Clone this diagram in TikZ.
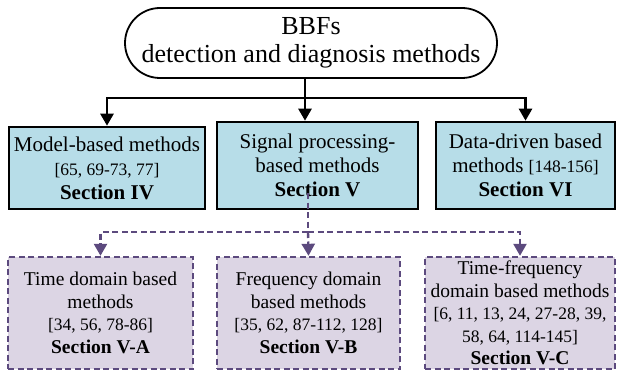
\documentclass[tikz,border=0pt]{standalone}
\usepackage{fontspec}
\setmainfont{Liberation Serif}
\usetikzlibrary{arrows.meta}
\usetikzlibrary{positioning}
\definecolor{boxblue}{HTML}{B7DDE8}
\definecolor{boxlilac}{HTML}{DCD5E4}
\definecolor{dashpurple}{HTML}{5C4A7E}
\def\refs#1{{\fontsize{17.5}{24}\selectfont #1}}

\begin{document}
\begin{tikzpicture}[x=1pt,y=-1pt,>={Triangle[width=13pt,length=12pt]},
		main/.style={draw,line width=1.8pt,rounded corners=35pt,minimum width=372pt,
			minimum height=70pt,align=center,font=\fontsize{26}{28.5}\selectfont},
		method/.style={draw,line width=2.6pt,fill=boxblue,align=center,inner sep=0pt,
			font=\fontsize{21}{24}\selectfont},
		submethod/.style={draw=dashpurple,dash pattern=on 6pt off 3.5pt,line width=2.4pt,
			fill=boxlilac,align=center,inner sep=0pt,font=\fontsize{19.5}{22.5}\selectfont},
		link/.style={->,line width=2.6pt},
		sublink/.style={->,color=dashpurple,line width=2.4pt,dash pattern=on 6pt off 3.5pt}]
		\useasboundingbox (0,0) rectangle (617,374);
		
		\node[main] (bbf) at (311,43) {BBFs\\detection and diagnosis methods};
		
		\node[method,minimum width=196pt,minimum height=82pt] (model) at (107,168)
			{Model-based methods\\ \refs{[65, 69-73, 77]}\\ \textbf{Section IV}};
		\node[method,minimum width=201pt,minimum height=87pt] (signal) at (317.5,165.5)
			{Signal processing-\\based methods\\ \textbf{Section V}};
		\node[method,minimum width=179pt,minimum height=87pt] (data) at (525.5,165.5)
			{Data-driven based\\methods \refs{[148-156]}\\ \textbf{Section VI}};
		
		\node[submethod,minimum width=185pt,minimum height=112pt] (time) at (100.5,313)
			{Time domain based\\methods\\ \refs{[34, 56, 78-86]}\\ \textbf{Section V-A}};
		\node[submethod,minimum width=183pt,minimum height=112pt] (freq) at (308.5,313)
			{Frequency domain\\based methods\\ \refs{[35, 62, 87-112, 128]}\\ \textbf{Section V-B}};
		\node[submethod,minimum width=190pt,minimum height=112pt] (tfreq) at (520,313)
			{Time-frequency\\domain based methods\\ \refs{[6, 11, 13, 24, 27-28, 39,}\\
			 \refs{58, 64, 114-145]}\\ \textbf{Section V-C}};
		
		\coordinate (split) at (305,98);
		\coordinate (dtop) at (308,193);
		\coordinate (dsplit) at (308,232);
		
		\draw[line width=2.6pt] (bbf.south -| split) -- (split);
		\draw[link] (split) -| (model.north);
		\draw[link] (split) -- (split |- signal.north);
		\draw[link] (split) -| (data.north);
		
		\draw[sublink,-] (dtop) -- (dsplit);
		\draw[sublink] (dsplit) -| (time.north);
		\draw[sublink] (dsplit) -- (freq.north);
		\draw[sublink] (dsplit) -| (tfreq.north);
\end{tikzpicture}
\end{document}
